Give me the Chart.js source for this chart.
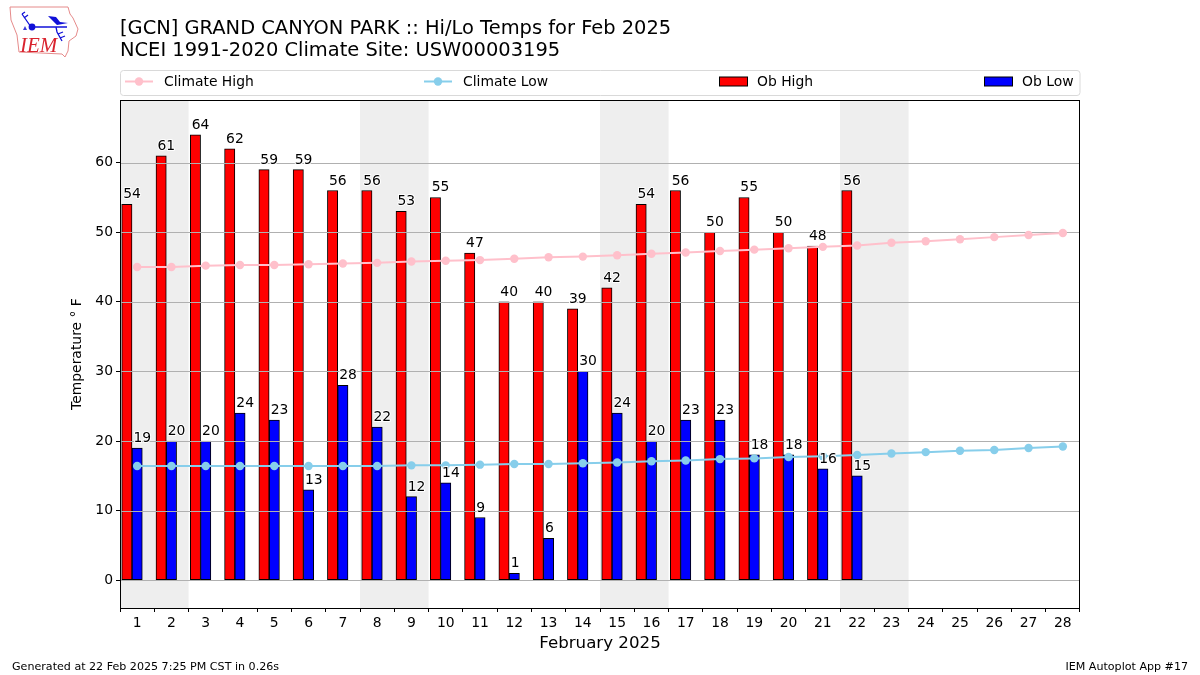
<!DOCTYPE html>
<html>
<head>
<meta charset="utf-8">
<title>GCN Hi/Lo Temps Feb 2025</title>
<script src="https://cdn.jsdelivr.net/npm/chart.js@4"></script>
<style>
html,body{margin:0;padding:0;background:#fff;overflow:hidden}
#wrap{position:relative;width:1200px;height:675px}
#logo{position:absolute;left:8px;top:5px}
canvas{display:block}
</style>
</head>
<body>
<div id="wrap">
<canvas id="chart" width="1200" height="675"></canvas>
<svg id="logo" width="72" height="54" viewBox="0 0 72 54">
  <path d="M2 2 L60 2 L62 9 L65 13 L70 24 L68 31 L61 36 L60 46 L57 52 L54 49 L11 47 L9 30 L3 15 Z" fill="#fff" stroke="#e58a8a" stroke-width="1"/>
  <g stroke="#1010d8" stroke-width="1.3" fill="none">
    <path d="M23 22 L59 22"/>
    <path d="M23 22 L14 9 M14 9 L17 7 M16 13 L20 10"/>
    <path d="M48 22 L49 27 L54 36 M50 29 L55 27 M52 33 L57 31"/>
  </g>
  <circle cx="24" cy="22" r="3.4" fill="#1010d8"/>
  <path d="M40 11 L48 12 L52 17 L60 18 L49 20 Z" fill="#1010d8"/>
  <path d="M17 21 L19 25 L15 25 Z" fill="#3a3ad8"/>
  <text x="12" y="47" font-family="Liberation Serif" font-style="italic" font-size="21" fill="#d9232e">IEM</text>
</svg>
</div>
<script>
const days = [1,2,3,4,5,6,7,8,9,10,11,12,13,14,15,16,17,18,19,20,21,22,23,24,25,26,27,28];
const obHigh = [54,61,64,62,59,59,56,56,53,55,47,40,40,39,42,54,56,50,55,50,48,56];
const obLow = [19,20,20,24,23,13,28,22,12,14,9,1,6,30,24,20,23,23,18,18,16,15];
const climateHigh = [45.0,45.0,45.2,45.3,45.3,45.4,45.5,45.6,45.8,45.9,46.0,46.2,46.4,46.5,46.7,46.9,47.1,47.3,47.5,47.7,47.9,48.1,48.5,48.7,49.0,49.3,49.6,49.9];
const climateLow = [16.4,16.4,16.4,16.4,16.4,16.4,16.4,16.4,16.5,16.5,16.6,16.7,16.7,16.8,16.9,17.1,17.2,17.4,17.5,17.7,17.8,18.0,18.2,18.4,18.6,18.7,19.0,19.2];
const yTicks = [0,10,20,30,40,50,60];
const weekends = [[0.5,2.5],[7.5,9.5],[14.5,16.5],[21.5,23.5]];
const titleLines = ['[GCN] GRAND CANYON PARK :: Hi/Lo Temps for Feb 2025','NCEI 1991-2020 Climate Site: USW00003195'];
const footerLeft = 'Generated at 22 Feb 2025 7:25 PM CST in 0.26s';
const footerRight = 'IEM Autoplot App #17';

const FONT = '"DejaVu Sans"';

// gray weekend bands, under everything
const bandsPlugin = {
  id:'bands',
  beforeDraw(chart){
    const {ctx,chartArea:a,scales:{x}} = chart;
    ctx.save();
    ctx.fillStyle = '#eeeeee';
    weekends.forEach(([from,to])=>{
      const l = x.getPixelForValue(from), r = x.getPixelForValue(to);
      ctx.fillRect(l,a.top,r-l,a.bottom-a.top);
    });
    ctx.restore();
  }
};

// grid goes over the bars but under the climate lines
const gridPlugin = {
  id:'midGrid',
  beforeDatasetDraw(chart,args){
    if (args.index!==0) return;
    const {ctx,chartArea:a,scales:{y}} = chart;
    ctx.save();
    ctx.strokeStyle = '#b0b0b0';
    ctx.lineWidth = 1;
    y.ticks.forEach(t=>{
      const py = Math.round(y.getPixelForValue(t.value))+.5;
      ctx.beginPath(); ctx.moveTo(a.left,py); ctx.lineTo(a.right,py); ctx.stroke();
    });
    ctx.restore();
  }
};

// value labels, plot frame, legend, footer
const overlayPlugin = {
  id:'overlay',
  afterDatasetsDraw(chart){
    const {ctx} = chart;
    ctx.save();
    ctx.font = '13.9px '+FONT;
    ctx.textAlign = 'left';
    ctx.textBaseline = 'alphabetic';
    ctx.lineJoin = 'round';
    chart.data.datasets.forEach((ds,i)=>{
      if (ds.type!=='bar') return;
      chart.getDatasetMeta(i).data.forEach((bar,j)=>{
        const txt = String(ds.data[j].y);
        const tx = bar.x - bar.width/2 + 1.5, ty = bar.y - 6;
        ctx.strokeStyle = '#fff';
        ctx.lineWidth = 2;
        ctx.strokeText(txt,tx,ty);
        ctx.fillStyle = '#000';
        ctx.fillText(txt,tx,ty);
      });
    });
    ctx.restore();
  },
  afterDraw(chart){
    const {ctx,chartArea:a} = chart;
    ctx.save();
    ctx.strokeStyle = '#000';
    ctx.lineWidth = 1;
    ctx.strokeRect(Math.round(a.left)+.5,Math.round(a.top)+.5,Math.round(a.right-a.left)-1,Math.round(a.bottom-a.top));
    // legend, four evenly spread columns in a rounded box
    ctx.strokeStyle = '#d9d9d9';
    ctx.beginPath();
    ctx.roundRect(120.5,70.5,959.5,25,3);
    ctx.stroke();
    const cols = [126,425,719,984];
    ctx.font = '13.9px '+FONT;
    ctx.textBaseline = 'middle';
    ctx.textAlign = 'left';
    chart.data.datasets.forEach((ds,i)=>{
      const x0 = cols[i], y0 = 81.5;
      if (ds.type==='line'){
        ctx.strokeStyle = ds.borderColor; ctx.lineWidth = 2;
        ctx.beginPath(); ctx.moveTo(x0-1,y0); ctx.lineTo(x0+27,y0); ctx.stroke();
        ctx.fillStyle = ds.borderColor;
        ctx.beginPath(); ctx.arc(x0+13,y0,4.2,0,Math.PI*2); ctx.fill();
      } else {
        ctx.fillStyle = ds.backgroundColor; ctx.strokeStyle = '#000'; ctx.lineWidth = 1;
        ctx.fillRect(x0,y0-4.5,28,9); ctx.strokeRect(x0+.5,y0-4.5,28,9);
      }
      ctx.fillStyle = '#000';
      ctx.fillText(ds.label,x0+38,y0+.5);
    });
    ctx.font = '11.1px '+FONT;
    ctx.fillStyle = '#000';
    ctx.textBaseline = 'alphabetic';
    ctx.textAlign = 'left';
    ctx.fillText(footerLeft,12,670);
    ctx.textAlign = 'right';
    ctx.fillText(footerRight,1188,670);
    ctx.restore();
  }
};

const RED_SHIFT = -0.3;   // red bar sits left of the day, blue bar on it

new Chart(document.getElementById('chart'),{
  data:{datasets:[
    {type:'line',label:'Climate High',data:days.map((d,i)=>({x:d,y:climateHigh[i]})),borderColor:'#ffc0cb',backgroundColor:'#ffc0cb',borderWidth:2,pointRadius:4.2,pointBorderWidth:0,pointBackgroundColor:'#ffc0cb',tension:0,order:1},
    {type:'line',label:'Climate Low',data:days.map((d,i)=>({x:d,y:climateLow[i]})),borderColor:'#87ceeb',backgroundColor:'#87ceeb',borderWidth:2,pointRadius:4.2,pointBorderWidth:0,pointBackgroundColor:'#87ceeb',tension:0,order:1},
    {type:'bar',label:'Ob High',data:obHigh.map((v,i)=>({x:days[i]+RED_SHIFT,y:v})),backgroundColor:'#ff0000',borderColor:'#000',borderWidth:1,borderSkipped:false,barThickness:10.3,grouped:false,order:2},
    {type:'bar',label:'Ob Low',data:obLow.map((v,i)=>({x:days[i],y:v})),backgroundColor:'#0000ff',borderColor:'#000',borderWidth:1,borderSkipped:false,barThickness:10.3,grouped:false,order:2}
  ]},
  options:{
    responsive:false,
    animation:false,
    layout:{padding:{left:0,right:120,top:0,bottom:0}},
    plugins:{
      legend:{display:false},
      tooltip:{enabled:false},
      title:{display:true,text:titleLines,position:'top',align:'start',fullSize:false,color:'#000',font:{family:FONT,size:19.44,weight:'normal',lineHeight:1.12},padding:{top:18,bottom:38.5}}
    },
    scales:{
      x:{
        type:'linear',min:0.5,max:28.5,bounds:'data',offset:false,
        afterFit(s){ s.height = 67; },
        afterBuildTicks(s){ s.ticks = days.map(d=>({value:d})); },
        grid:{drawOnChartArea:false,tickColor:'#000',tickLength:4,tickWidth:1},
        border:{display:false},
        ticks:{autoSkip:false,maxRotation:0,color:'#000',font:{family:FONT,size:13.9},padding:3,callback:v=>String(v)},
        title:{display:true,text:'February 2025',color:'#000',font:{family:FONT,size:16.67},padding:{top:7,bottom:21}}
      },
      y:{
        min:-4,max:69,bounds:'data',
        afterFit(s){ s.width = 120; },
        afterBuildTicks(s){ s.ticks = yTicks.map(v=>({value:v})); },
        grid:{drawOnChartArea:false,tickColor:'#000',tickLength:4},
        border:{display:false},
        ticks:{color:'#000',font:{family:FONT,size:13.9},padding:3,callback:v=>String(v)},
        title:{display:true,text:'Temperature \u00B0 F',color:'#000',font:{family:FONT,size:13.9},padding:{top:69,bottom:0}}
      }
    }
  },
  plugins:[bandsPlugin,gridPlugin,overlayPlugin]
});
</script>
</body>
</html>
